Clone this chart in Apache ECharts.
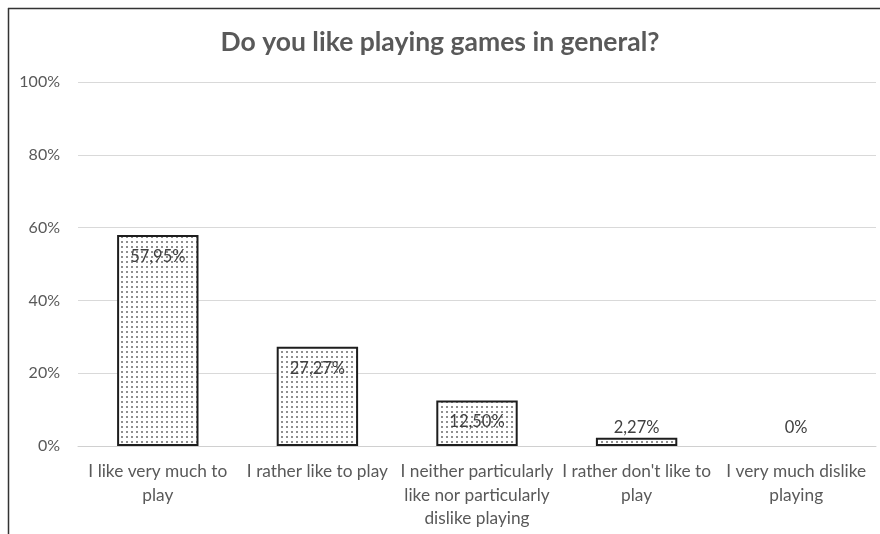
<!DOCTYPE html>
<html>
<head>
<meta charset="utf-8">
<script src="https://cdn.jsdelivr.net/npm/echarts@6/dist/echarts.min.js"></script>
<style>
  html, body { margin: 0; padding: 0; background: #fff; }
  #chart { width: 880px; height: 534px; }
</style>
</head>
<body>
<div id="chart"></div>
<script>
// Survey answers and their shares (percent)
const categories = [
  'I like very much to\nplay',
  'I rather like to play',
  'I neither particularly\nlike nor particularly\ndislike playing',
  "I rather don't like to\nplay",
  'I very much dislike\nplaying'
];
const shares = [57.95, 27.27, 12.50, 2.27, 0];
const yTicks = [0, 20, 40, 60, 80, 100];

// Dotted fill used for the bars
function dotPattern() {
  const c = document.createElement('canvas');
  c.width = 5; c.height = 5;
  const g = c.getContext('2d');
  g.fillStyle = '#ffffff';
  g.fillRect(0, 0, 5, 5);
  g.fillStyle = '#8f8f8f';
  g.fillRect(1, 1, 2, 2);
  return c;
}

function fmt(v) {
  if (v === 0) return '0%';
  return v.toFixed(2).replace('.', ',') + '%';
}

const FONT = 'Lato, "Open Sans", sans-serif';
const chart = echarts.init(document.getElementById('chart'), null, { renderer: 'canvas' });

const barData = shares.map(v => {
  const small = v < 5;
  return {
    value: v,
    itemStyle: v === 0 ? { borderWidth: 0 } : undefined,
    label: {
      position: small ? 'top' : 'insideTop',
      distance: small ? (v === 0 ? 10 : 2) : 13
    }
  };
});

chart.setOption({
  animation: false,
  backgroundColor: '#ffffff',
  title: {
    text: 'Do you like playing games in general?',
    left: 'center',
    top: 24,
    textStyle: { fontFamily: FONT, fontSize: 26.5, fontWeight: 'bold', color: '#595959' }
  },
  grid: { left: 78, right: 4, top: 82, bottom: 88 },
  xAxis: {
    type: 'category',
    data: categories,
    axisLine: { lineStyle: { color: '#d0d0d0', width: 1 } },
    axisTick: { show: false },
    axisLabel: {
      interval: 0,
      margin: 14,
      fontFamily: FONT, fontSize: 17.3, color: '#595959', lineHeight: 23.5
    }
  },
  yAxis: {
    type: 'value',
    min: yTicks[0],
    max: yTicks[yTicks.length - 1],
    interval: 20,
    axisLine: { show: false },
    axisTick: { show: false },
    splitLine: { lineStyle: { color: '#d9d9d9', width: 1 } },
    axisLabel: {
      formatter: v => v + '%',
      margin: 18,
      fontFamily: FONT, fontSize: 16, color: '#595959'
    }
  },
  series: [{
    type: 'bar',
    data: barData,
    barWidth: '51%',
    itemStyle: {
      color: { image: dotPattern(), repeat: 'repeat' },
      borderColor: '#1e1e1e',
      borderWidth: 2
    },
    label: {
      show: true,
      formatter: p => fmt(p.value),
      fontFamily: FONT, fontSize: 16.5, color: '#404040'
    }
  }],
  graphic: [
    { type: 'line', shape: { x1: 8.5, y1: 8, x2: 8.5, y2: 534 }, style: { stroke: '#333', lineWidth: 1.5 } },
    { type: 'line', shape: { x1: 8, y1: 8.5, x2: 880, y2: 8.5 }, style: { stroke: '#333', lineWidth: 1.5 } }
  ]
});
</script>
</body>
</html>
